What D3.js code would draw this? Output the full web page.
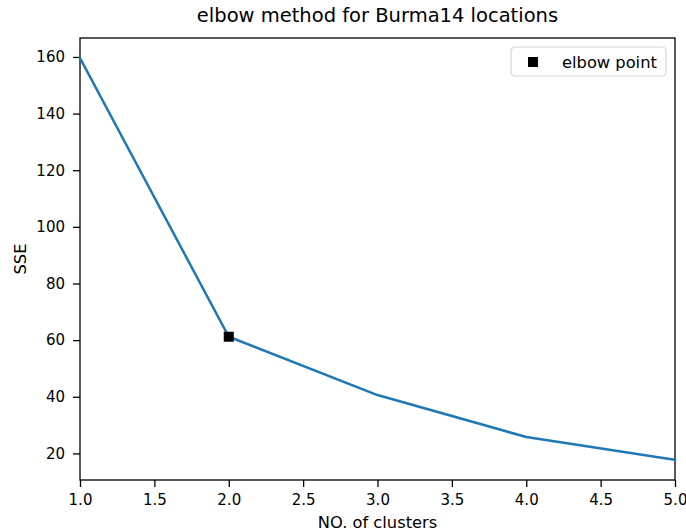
<!DOCTYPE html>
<html>
<head>
<meta charset="utf-8">
<script src="https://cdn.jsdelivr.net/npm/d3@7"></script>
<style>
  body { margin: 0; background: #fff; }
  text { font-family: "DejaVu Sans", sans-serif; fill: #000; }
</style>
</head>
<body>
<div id="chart"></div>
<script>
// Data
const clusters = [1, 2, 3, 4, 5];
const sse = [159.6, 61.2, 40.6, 25.8, 17.7];
const elbowK = [2];
const elbowSSE = [61.2];
const xTicks = [1.0, 1.5, 2.0, 2.5, 3.0, 3.5, 4.0, 4.5, 5.0];
const yTicks = [20, 40, 60, 80, 100, 120, 140, 160];

const width = 686;
const height = 532;
const margin = { top: 38, right: 11, bottom: 52, left: 80 };
const innerW = width - margin.left - margin.right;
const innerH = height - margin.top - margin.bottom;

const svg = d3.select("#chart")
  .append("svg")
  .attr("width", width)
  .attr("height", height);

const g = svg.append("g")
  .attr("transform", `translate(${margin.left},${margin.top})`);

// matplotlib style 5% padding on y
const yMin = d3.min(sse), yMax = d3.max(sse);
const pad = (yMax - yMin) * 0.05;

const x = d3.scaleLinear().domain([1, 5]).range([0, innerW]);
const y = d3.scaleLinear().domain([yMin - pad, yMax + pad]).range([innerH, 0]);

const tickFont = 15;
const labelFont = 16.3;

// axes
const xAxis = g.append("g")
  .attr("transform", `translate(0,${innerH})`)
  .call(d3.axisBottom(x).tickValues(xTicks).tickFormat(d3.format(".1f")).tickSize(7).tickPadding(7));
const yAxis = g.append("g")
  .call(d3.axisLeft(y).tickValues(yTicks).tickSize(7).tickPadding(8));

[xAxis, yAxis].forEach(a => {
  a.select(".domain").remove();
  a.selectAll("line").attr("stroke", "#000").attr("stroke-width", 1.3);
  a.selectAll("text").attr("font-size", tickFont).attr("font-family", "DejaVu Sans");
});

// plot frame
g.append("rect")
  .attr("width", innerW)
  .attr("height", innerH)
  .attr("fill", "none")
  .attr("stroke", "#000")
  .attr("stroke-width", 1.3);

// SSE line
const line = d3.line()
  .x((d, i) => x(clusters[i]))
  .y(d => y(d));

g.append("path")
  .datum(sse)
  .attr("d", line)
  .attr("fill", "none")
  .attr("stroke", "#1f77b4")
  .attr("stroke-width", 2.5)
  .attr("stroke-linejoin", "round")
  .attr("stroke-linecap", "square");

// elbow marker
const ms = 10;
g.selectAll(".elbow")
  .data(elbowK)
  .enter()
  .append("rect")
  .attr("class", "elbow")
  .attr("x", d => x(d) - ms / 2)
  .attr("y", (d, i) => y(elbowSSE[i]) - ms / 2)
  .attr("width", ms)
  .attr("height", ms)
  .attr("fill", "#000");

// title and labels
svg.append("text")
  .attr("x", margin.left + innerW / 2)
  .attr("y", 22)
  .attr("text-anchor", "middle")
  .attr("font-size", 19.5)
  .text("elbow method for Burma14 locations");

svg.append("text")
  .attr("x", margin.left + innerW / 2)
  .attr("y", 528)
  .attr("text-anchor", "middle")
  .attr("font-size", labelFont)
  .text("NO. of clusters");

svg.append("text")
  .attr("transform", `translate(26,${margin.top + innerH / 2}) rotate(-90)`)
  .attr("text-anchor", "middle")
  .attr("font-size", labelFont)
  .text("SSE");

// legend
const legend = g.append("g")
  .attr("transform", `translate(${innerW - 164},9)`);

legend.append("rect")
  .attr("width", 155)
  .attr("height", 29)
  .attr("rx", 4)
  .attr("fill", "#fff")
  .attr("fill-opacity", 0.8)
  .attr("stroke", "#d6d6d6")
  .attr("stroke-width", 1.2);

legend.append("rect")
  .attr("x", 22 - ms / 2)
  .attr("y", 15 - ms / 2)
  .attr("width", ms)
  .attr("height", ms)
  .attr("fill", "#000");

legend.append("text")
  .attr("x", 51)
  .attr("y", 15)
  .attr("dy", "0.35em")
  .attr("font-size", labelFont)
  .text("elbow point");
</script>
</body>
</html>
